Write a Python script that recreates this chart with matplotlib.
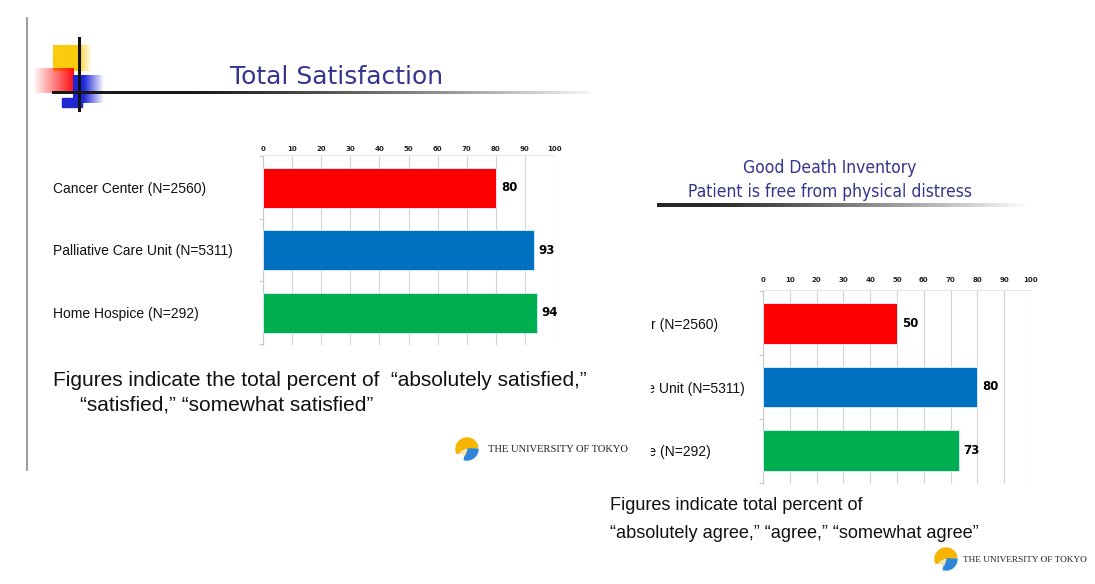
import numpy as np
import matplotlib
matplotlib.use("Agg")
import matplotlib.pyplot as plt
from matplotlib.patches import Rectangle, Wedge
from matplotlib.transforms import Bbox, TransformedBbox

# ---------------- data ----------------
categories = ["Cancer Center (N=2560)", "Palliative Care Unit (N=5311)", "Home Hospice (N=292)"]
satisfaction = [80, 93, 94]
free_from_distress = [50, 80, 73]
bar_colors = ["#ff0000", "#0070c0", "#00b050"]
x_ticks = list(range(0, 101, 10))

title_left = "Total Satisfaction"
title_right = ["Good Death Inventory", "Patient is free from physical distress"]
note_left = ["Figures indicate the total percent of  \u201cabsolutely satisfied,\u201d",
             "\u201csatisfied,\u201d \u201csomewhat satisfied\u201d"]
note_right = ["Figures indicate total percent of",
              "\u201cabsolutely agree,\u201d \u201cagree,\u201d \u201csomewhat agree\u201d"]
logo_text = "THE UNIVERSITY OF TOKYO"

W, H = 1095, 584
fig = plt.figure(figsize=(W / 100, H / 100), dpi=100)
fig.patch.set_facecolor("white")

TITLE_COLOR = "#35358f"

# ---------------- background / decoration layer (pixel coordinates) ----------------
bg = fig.add_axes([0, 0, 1, 1], zorder=0)
bg.set_axis_off()


def hgrad(ax, x0, x1, y0, y1, rgb, a_start, a_end, solid_frac=0.0, n=256):
    arr = np.zeros((1, n, 4))
    arr[..., :3] = rgb
    t = np.linspace(0, 1, n)
    a = np.where(t < solid_frac, a_start,
                 a_start + (a_end - a_start) * (t - solid_frac) / max(1e-9, 1 - solid_frac))
    arr[0, :, 3] = a
    ax.imshow(arr, extent=(x0, x1, y1, y0), aspect="auto", interpolation="bilinear", zorder=2)


# left slide vertical rule
bg.plot([27, 27], [18, 470], color="#8a8a8a", lw=1.2, zorder=1)

# corner decoration
hgrad(bg, 53, 92, 45, 71, (0.98, 0.80, 0.05), 1.0, 0.0, solid_frac=0.6)
hgrad(bg, 33, 74, 68, 93, (1.0, 0.05, 0.05), 0.0, 1.0, solid_frac=0.0)
hgrad(bg, 73, 104, 75, 103, (0.12, 0.15, 0.85), 1.0, 0.0, solid_frac=0.35)
bg.add_patch(Rectangle((62, 98), 20, 9, color="#2028d0", zorder=2))
bg.plot([79, 79], [38, 110], color="#111111", lw=2.2, zorder=3)
# title underline (fading)
n = 400
arr = np.zeros((1, n, 4))
t = np.linspace(0, 1, n)
arr[0, :, :3] = 0.1
arr[0, :, 3] = np.clip(1.15 - 1.1 * t ** 1.5, 0, 1)
bg.imshow(arr, extent=(52, 590, 94, 91), aspect="auto", zorder=3)
# right title underline
arr2 = np.zeros((1, n, 4))
arr2[0, :, :3] = 0.15
arr2[0, :, 3] = np.clip(1.1 - 1.15 * t ** 1.2, 0, 1)
bg.imshow(arr2, extent=(657, 1045, 207, 203), aspect="auto", zorder=3)

# titles
bg.text(337, 77, title_left, ha="center", va="center", fontsize=18,
        color=TITLE_COLOR, family="DejaVu Sans", zorder=4)
bg.text(830, 168, title_right[0], ha="center", va="center", fontsize=12.5,
        color=TITLE_COLOR, family="DejaVu Sans", stretch="condensed", zorder=4)
bg.text(830, 192, title_right[1], ha="center", va="center", fontsize=12.5,
        color=TITLE_COLOR, family="DejaVu Sans", stretch="condensed", zorder=4)

# notes
bg.text(53, 381, note_left[0], ha="left", va="center", fontsize=15,
        family="Liberation Sans", color="#111111", zorder=4)
bg.text(80, 405, note_left[1], ha="left", va="center", fontsize=15,
        family="Liberation Sans", color="#111111", zorder=4)
bg.text(610, 505, note_right[0], ha="left", va="center", fontsize=13.1,
        family="Liberation Sans", color="#111111", zorder=4)
bg.text(610, 534, note_right[1], ha="left", va="center", fontsize=13.1,
        family="Liberation Sans", color="#111111", zorder=4)


def logo(cx, cy, r, tx, fs):
    # y axis of this layer is inverted, so angles run clockwise on screen
    bg.add_patch(Wedge((cx, cy), r, 155, 350, color="#f7b500", zorder=4))
    bg.add_patch(Wedge((cx, cy), r, 0, 105, color="#2f86d6", zorder=4))
    bg.add_patch(Wedge((cx, cy), r * 0.6, 110, 155, color="#f3e6b0", zorder=5))
    bg.text(tx, cy + 1, logo_text, ha="left", va="center", fontsize=fs,
            family="Liberation Serif", color="#222222", zorder=4)


logo(467, 449, 11, 488, 7.6)
logo(946, 559, 11, 963, 6.7)

bg.set_xlim(0, W)
bg.set_ylim(H, 0)


# ---------------- bar charts ----------------
def bar_chart(rect, values, label_pad_pt, clip_x=None, tick_pad=2.5):
    ax = fig.add_axes(rect, zorder=2)
    ax.set_facecolor("none")
    y = np.arange(len(categories))
    ax.barh(y, values, height=0.64, color=bar_colors, edgecolor="#cfe8f5",
            linewidth=0.7, zorder=3)
    for yi, v in zip(y, values):
        ax.text(v + 1.8, yi, str(v), va="center", ha="left", fontsize=8.5,
                fontweight="bold", family="DejaVu Sans", zorder=4)
    ax.set_xlim(0, 100)
    ax.set_ylim(len(categories) - 0.48, -0.52)
    ax.set_xticks(x_ticks)
    ax.xaxis.tick_top()
    ax.tick_params(axis="x", length=0, pad=tick_pad, labelsize=5,
                   labelcolor="#222222")
    for lbl in ax.get_xticklabels():
        lbl.set_fontweight("bold")
    ax.grid(axis="x", color="#d4d4d4", lw=0.8, zorder=0)
    ax.set_yticks(y, categories)
    ax.set_yticks(np.arange(-0.5, len(categories) + 0.5, 1), minor=True)
    ax.tick_params(axis="y", which="major", length=0, pad=label_pad_pt,
                   labelsize=10, labelcolor="#111111")
    ax.tick_params(axis="y", which="minor", length=3, color="#c8c8c8", width=0.8)
    for lbl in ax.get_yticklabels():
        lbl.set_ha("left")
        lbl.set_family("Liberation Sans")
        if clip_x is not None:
            lbl.set_clip_box(TransformedBbox(Bbox.from_extents(clip_x / W, 0, 1, 1),
                                             fig.transFigure))
            lbl.set_clip_on(True)
    for s in ["right", "bottom"]:
        ax.spines[s].set_visible(False)
    ax.spines["left"].set_color("#c8c8c8")
    ax.spines["top"].set_color("#e2ece6")
    return ax


bar_chart([263 / W, 1 - 345 / H, 291 / W, 190 / H], satisfaction,
          label_pad_pt=(263 - 53) * 0.72)
bar_chart([763 / W, 1 - 484 / H, 268 / W, 194 / H], free_from_distress,
          label_pad_pt=(763 - 565) * 0.72, clip_x=651, tick_pad=5)

fig.savefig("out.png", dpi=100, facecolor="white")
